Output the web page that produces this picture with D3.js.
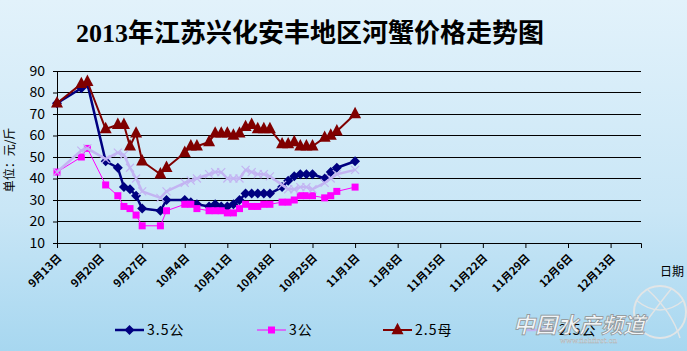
<!DOCTYPE html>
<html>
<head>
<meta charset="utf-8">
<script src="https://cdn.jsdelivr.net/npm/d3@7"></script>
<style>
body { margin: 0; padding: 0; }
svg { display: block; }
</style>
</head>
<body>
<svg id="chart" width="687" height="351"></svg>
<script>
// dates (2013) shared by all series
const dates = ['9-13','9-17','9-18','9-21','9-23','9-24','9-25','9-26','9-27','9-30',
               '10-1','10-4','10-5','10-6','10-8','10-9','10-10','10-11','10-12','10-13',
               '10-14','10-15','10-16','10-17','10-18','10-20','10-21','10-22','10-23','10-24',
               '10-25','10-27','10-28','10-29','11-1'];
const gong35 = [75,82,84,48,45,36,35,32,26,25, 30,30,29,28,27,28,27,27,28,30, 33,33,33,33,33,36,39,41,42,42, 42,40,43,45,48];
const gong3  = [43,50,54,37,32,27,26,23,18,18, 25,28,28,26,25,25,25,24,24,26, 28,27,27,28,28,29,29,30,32,32, 32,31,32,34,36];
const gong25 = [43,53,54,49,52,51,45,40,34,31, 34,38,39,40,42,43,43,40,40,40, 44,43,42,42,41,37,35,35,36,36, 35,38,40,42,44];
const mu25   = [75,84,85,63,65,65,55,61,48,42, 45,52,55,55,57,61,61,61,60,61, 64,65,63,63,63,56,56,57,55,55, 55,59,60,62,70];
const seriesNames = ['3.5公','3公','2.5母','2.5公'];
const yTicks = [10,20,30,40,50,60,70,80,90];

let margin = {top: 71, left: 57, right: 46, bottom: 108};
let svgWidth = 687, svgHeight = 351;
let width = svgWidth - margin.left - margin.right;
let height = svgHeight - margin.top - margin.bottom;

let parse = d => new Date(2013, +d.split('-')[0] - 1, +d.split('-')[1]);
let start = new Date(2013, 8, 13), end = new Date(2013, 11, 18);

let xScale = d3.scaleTime().domain([start, end]).range([0, width]);
let yScale = d3.scaleLinear().domain([10, 90]).range([height, 0]);

let root = d3.select('#chart');
let defs = root.append('defs');
let grad = defs.append('linearGradient').attr('id', 'bg').attr('x1', 0).attr('y1', 0).attr('x2', 0).attr('y2', 1);
grad.append('stop').attr('offset', '0%').attr('stop-color', '#e2f2fb');
grad.append('stop').attr('offset', '60%').attr('stop-color', '#c9e6f6');
grad.append('stop').attr('offset', '100%').attr('stop-color', '#a7d7f0');
root.append('rect').attr('width', svgWidth).attr('height', svgHeight).attr('fill', 'url(#bg)');

root.append('text')
    .attr('x', 310).attr('y', 42)
    .attr('text-anchor', 'middle')
    .style('font-family', '"Liberation Serif", "Noto Sans CJK SC", serif')
    .style('font-weight', 'bold')
    .style('font-size', '26px')
    .attr('fill', '#000')
    .text('2013年江苏兴化安丰地区河蟹价格走势图');

let svg = root.append('g').attr('transform', `translate(${margin.left},${margin.top})`);

// gridlines
svg.append('g').selectAll('line').data(yTicks.slice(1)).enter().append('line')
    .attr('x1', 0).attr('x2', width)
    .attr('y1', d => yScale(d)).attr('y2', d => yScale(d))
    .attr('stroke', '#000').attr('stroke-width', 1).attr('shape-rendering', 'crispEdges');

// y axis
let yAxis = svg.append('g')
    .call(d3.axisLeft(yScale).tickValues(yTicks).tickSize(4).tickPadding(8));
yAxis.select('.domain').attr('stroke', '#000');
yAxis.selectAll('text')
    .style('font-family', '"Noto Sans CJK SC", sans-serif')
    .style('font-size', '14px').attr('fill', '#000');

// x axis
let xTicks = d3.timeDay.range(start, new Date(2013, 11, 14), 7);
let xAxis = svg.append('g')
    .attr('transform', `translate(0,${height})`)
    .call(d3.axisBottom(xScale).tickValues(xTicks).tickSizeOuter(0).tickSize(5)
        .tickFormat(d => `${d.getMonth() + 1}月${d.getDate()}日`));
xAxis.select('.domain').attr('stroke', '#000');
xAxis.selectAll('text')
    .attr('text-anchor', 'end')
    .attr('transform', 'translate(2,13) rotate(-45)')
    .attr('x', 0).attr('y', 0).attr('dy', '0.35em')
    .style('font-family', '"Noto Sans CJK SC", sans-serif')
    .style('font-weight', 'bold')
    .style('font-size', '11px').attr('fill', '#000');

root.append('text')
    .attr('x', 660).attr('y', 276)
    .style('font-family', '"Noto Sans CJK SC", sans-serif')
    .style('font-size', '12px')
    .text('日期');

root.append('text')
    .attr('transform', 'translate(14,160) rotate(-90)')
    .attr('text-anchor', 'middle')
    .style('font-family', '"Noto Sans CJK SC", sans-serif')
    .style('font-size', '12px')
    .text('单位：元/斤');

// marker painters
function marker(g, type, color, s) {
    if (type === 'diamond') {
        g.append('path').attr('d', `M0,${-s}L${s},0L0,${s}L${-s},0Z`).attr('fill', color);
    } else if (type === 'square') {
        g.append('rect').attr('x', -s).attr('y', -s).attr('width', 2 * s).attr('height', 2 * s).attr('fill', color);
    } else if (type === 'triangle') {
        g.append('path').attr('d', `M0,${-s * 1.2}L${s},${s * 0.7}L${-s},${s * 0.7}Z`).attr('fill', color);
    } else {
        g.append('path').attr('d', `M${-s},${-s}L${s},${s}M${s},${-s}L${-s},${s}`)
            .attr('stroke', color).attr('stroke-width', 1.2).attr('fill', 'none');
    }
}

let series = [
    {name: seriesNames[0], values: gong35, color: '#000080', width: 2.5, type: 'diamond', size: 5},
    {name: seriesNames[1], values: gong3, color: '#ff00ff', width: 1, type: 'square', size: 3.5},
    {name: seriesNames[2], values: mu25, color: '#800000', width: 2, type: 'triangle', size: 6},
    {name: seriesNames[3], values: gong25, color: '#c3b4f2', width: 2.5, type: 'x', size: 4}
];

let line = d3.line().x((d, i) => xScale(parse(dates[i]))).y(d => yScale(d));

series.forEach(function(s) {
    let g = svg.append('g');
    g.append('path').attr('d', line(s.values))
        .attr('fill', 'none').attr('stroke', s.color).attr('stroke-width', s.width)
        .attr('stroke-linejoin', 'round');
    g.selectAll('g').data(s.values).enter().append('g')
        .attr('transform', (d, i) => `translate(${xScale(parse(dates[i]))},${yScale(d)})`)
        .each(function() { marker(d3.select(this), s.type, s.color, s.size); });
});

// legend
let legendX = [115, 257, 383, 527];
series.forEach(function(s, i) {
    let g = root.append('g').attr('transform', `translate(${legendX[i]},330)`);
    g.append('line').attr('x1', 0).attr('x2', 29).attr('y1', 0).attr('y2', 0)
        .attr('stroke', s.color).attr('stroke-width', s.width);
    marker(g.append('g').attr('transform', 'translate(14.5,0)'), s.type, s.color, s.size);
    g.append('text').attr('x', 32).attr('y', 5)
        .style('font-family', '"Noto Sans CJK SC", sans-serif')
        .style('font-size', '14px')
        .style('letter-spacing', '1px')
        .text(s.name);
});

// watermark
let wm = root.append('g').attr('opacity', 0.92);
wm.append('circle').attr('cx', 660).attr('cy', 312).attr('r', 26)
    .attr('fill', 'none').attr('stroke', '#e6e6e6').attr('stroke-width', 2);
wm.append('path').attr('d', 'M636,300Q660,320 684,300M640,330Q662,300 672,288M648,290Q672,312 680,338')
    .attr('fill', 'none').attr('stroke', '#e6e6e6').attr('stroke-width', 1.5);
wm.append('text').attr('x', 513).attr('y', 333)
    .style('font-family', '"Noto Sans CJK SC", sans-serif')
    .style('font-weight', 'bold').style('font-style', 'italic')
    .style('font-size', '22px')
    .attr('fill', '#f8f8f8').attr('stroke', '#8a8a8a').attr('stroke-width', 0.7)
    .text('中国水产频道');
wm.append('text').attr('x', 560).attr('y', 343)
    .style('font-family', '"DejaVu Serif", serif')
    .style('font-size', '7px')
    .attr('fill', '#f4f4f4').attr('stroke', '#aaa').attr('stroke-width', 0.3)
    .text('www.fishfirst.cn');
</script>
</body>
</html>
